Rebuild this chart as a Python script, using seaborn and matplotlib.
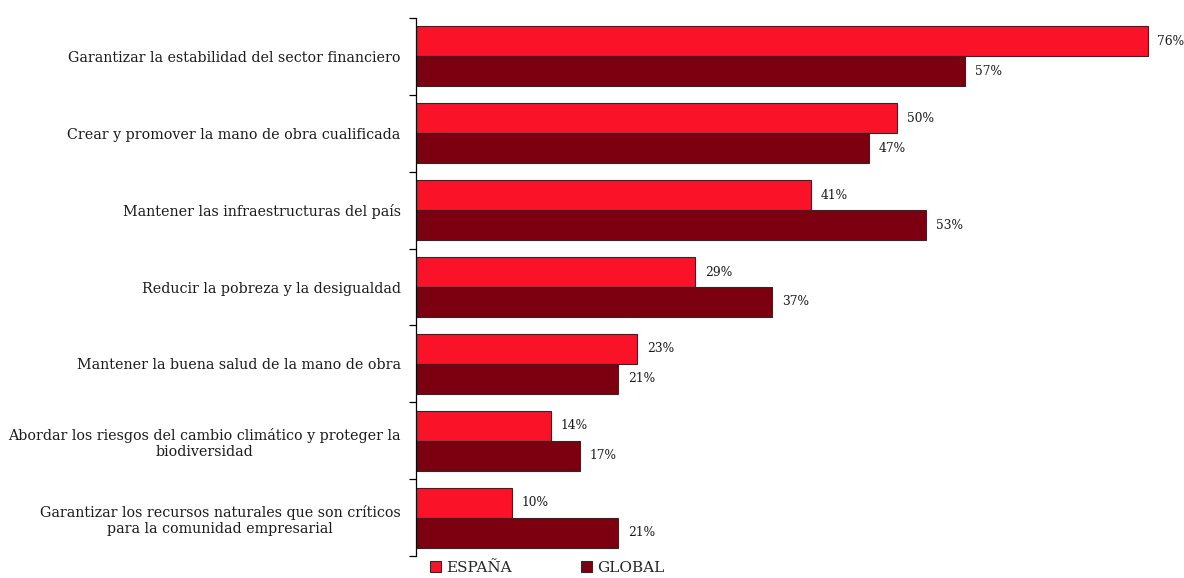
import matplotlib
matplotlib.use("Agg")
import matplotlib.pyplot as plt
from matplotlib.ticker import FixedLocator
from matplotlib.patches import Patch
import seaborn as sns
import pandas as pd
import numpy as np

categories = [
    "Garantizar la estabilidad del sector financiero",
    "Crear y promover la mano de obra cualificada",
    "Mantener las infraestructuras del país",
    "Reducir la pobreza y la desigualdad",
    "Mantener la buena salud de la mano de obra",
    "Abordar los riesgos del cambio climático y proteger la\nbiodiversidad",
    "Garantizar los recursos naturales que son críticos\npara la comunidad empresarial",
]
series_names = ["ESPAÑA", "GLOBAL"]
espana = [76, 50, 41, 29, 23, 14, 10]
global_ = [57, 47, 53, 37, 21, 17, 21]
colors = ["#FA1229", "#7C000F"]

df = pd.DataFrame({
    "categoria": categories * 2,
    "serie": [series_names[0]] * len(categories) + [series_names[1]] * len(categories),
    "valor": espana + global_,
})

sns.set_theme(style="white")
plt.rcParams["font.family"] = ["DejaVu Serif"]

fig = plt.figure(figsize=(11.84, 5.78), dpi=100)
ax = fig.add_axes([416 / 1184, 22 / 578, 751 / 1184, 538 / 578])

sns.barplot(
    data=df, y="categoria", x="valor", hue="serie",
    order=categories, hue_order=series_names, palette=colors,
    orient="h", width=0.78, saturation=1, edgecolor="#2a2a2a", linewidth=0.8,
    legend=False, ax=ax,
)

ax.set_xlim(0, 78)
ax.set_ylim(len(categories) - 0.5, -0.5)
ax.set_xlabel("")
ax.set_ylabel("")
ax.set_xticks([])

for side in ["top", "right", "bottom"]:
    ax.spines[side].set_visible(False)
ax.spines["left"].set_color("black")
ax.spines["left"].set_linewidth(0.9)

ax.set_yticks(range(len(categories)))
ax.set_yticklabels(categories, fontsize=10.3, color="#1a1a1a", ha="right", multialignment="center")
ax.tick_params(axis="y", which="major", length=0, pad=11)
ax.yaxis.set_minor_locator(FixedLocator(np.arange(-0.5, len(categories), 1.0)))
ax.tick_params(axis="y", which="minor", length=5, width=0.9, color="black", direction="out", left=True)

for container in ax.containers:
    ax.bar_label(container, labels=[f"{v:.0f}%" for v in container.datavalues],
                 padding=7, fontsize=8.8, color="#1a1a1a")

handles = [Patch(facecolor=c, edgecolor="#2a2a2a", linewidth=0.8) for c in colors]
fig.legend(handles, series_names, loc="center", bbox_to_anchor=(0.462, 0.017),
           ncol=2, frameon=False, fontsize=11, handlelength=0.75, handleheight=0.75,
           handletextpad=0.3, columnspacing=4.55, borderaxespad=0)

fig.savefig("out.png", dpi=100)
